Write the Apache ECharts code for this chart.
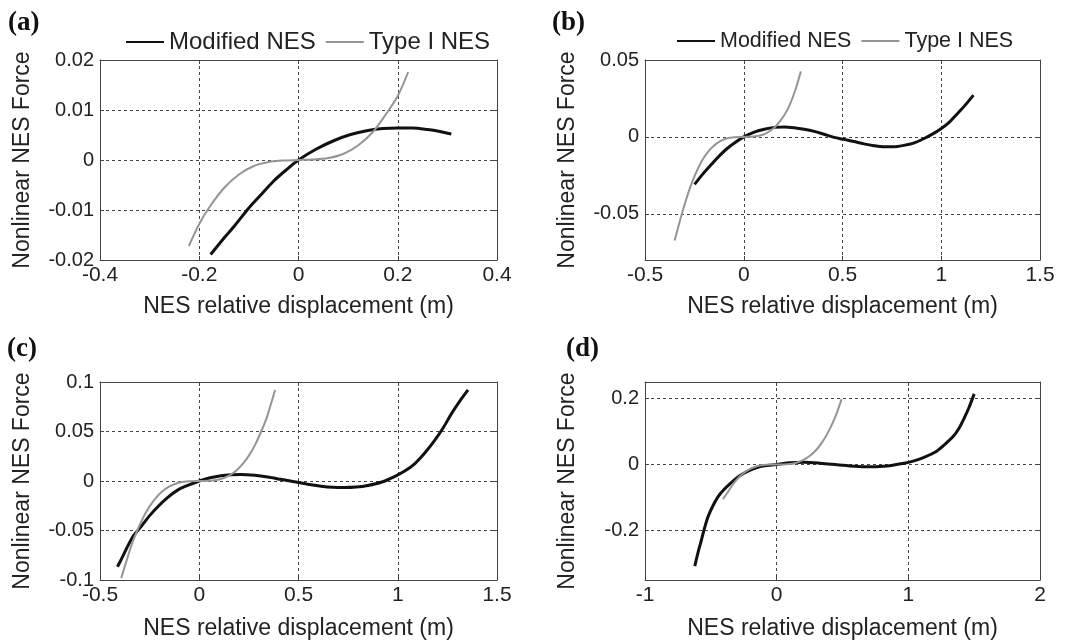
<!DOCTYPE html>
<html>
<head>
<meta charset="utf-8">
<script src="https://cdn.jsdelivr.net/npm/echarts@6/dist/echarts.min.js"></script>
<style>
html,body{margin:0;padding:0;background:#fff;}
#chart{width:1074px;height:642px;}
</style>
</head>
<body>
<div id="chart"></div>
<script>
// ---- data: [displacement (m), force] ----
const panelLabels = ['(a)', '(b)', '(c)', '(d)'];
const seriesNames = ['Modified NES', 'Type I NES'];
const xTitle = 'NES relative displacement (m)';
const yTitle = 'Nonlinear NES Force';

const modA = [[-0.177,-0.0189],[-0.15,-0.0156],[-0.13,-0.0133],[-0.1,-0.0096],[-0.076,-0.0070],[-0.05,-0.0042],[-0.025,-0.0020],[0,0],[0.036,0.0022],[0.072,0.0039],[0.105,0.0051],[0.14,0.0059],[0.17,0.0063],[0.2,0.0064],[0.23,0.0064],[0.26,0.0061],[0.285,0.0057],[0.308,0.0052]];
const typeA = [[-0.221,-0.0172],[-0.2,-0.0128],[-0.18,-0.0095],[-0.15,-0.0056],[-0.12,-0.0029],[-0.09,-0.0012],[-0.06,-0.0004],[-0.03,-0.0001],[0,0],[0.03,0.0001],[0.06,0.0004],[0.09,0.0012],[0.12,0.0029],[0.15,0.0056],[0.175,0.0090],[0.2,0.0128],[0.221,0.0176]];

const modB = [[-0.249,-0.0309],[-0.21,-0.0245],[-0.165,-0.0180],[-0.12,-0.0118],[-0.081,-0.0072],[-0.04,-0.0033],[0,0],[0.05,0.0030],[0.104,0.0050],[0.155,0.0062],[0.205,0.0065],[0.255,0.0060],[0.306,0.0050],[0.357,0.0036],[0.407,0.0017],[0.458,-0.0003],[0.508,-0.0016],[0.558,-0.0030],[0.608,-0.0045],[0.659,-0.0057],[0.709,-0.0064],[0.76,-0.0064],[0.81,-0.0055],[0.86,-0.0040],[0.911,-0.0012],[0.955,0.0018],[0.995,0.0050],[1.04,0.0095],[1.079,0.0148],[1.12,0.0205],[1.163,0.0272]];
const typeB = [[-0.35,-0.0674],[-0.32,-0.053],[-0.29,-0.040],[-0.26,-0.0289],[-0.23,-0.020],[-0.2,-0.0131],[-0.17,-0.0081],[-0.14,-0.0045],[-0.1,-0.0016],[-0.05,-0.0002],[0,0],[0.05,0.0002],[0.1,0.0016],[0.14,0.0045],[0.17,0.0081],[0.2,0.0131],[0.23,0.020],[0.26,0.030],[0.289,0.0426]];

const modC = [[-0.412,-0.0866],[-0.39,-0.078],[-0.362,-0.0664],[-0.33,-0.055],[-0.294,-0.0463],[-0.25,-0.035],[-0.21,-0.0262],[-0.16,-0.0168],[-0.109,-0.0092],[-0.055,-0.0042],[0,0],[0.055,0.0032],[0.109,0.0053],[0.16,0.0063],[0.21,0.0066],[0.28,0.0057],[0.345,0.0040],[0.41,0.0017],[0.479,-0.0008],[0.545,-0.0032],[0.614,-0.0052],[0.672,-0.0063],[0.732,-0.0066],[0.79,-0.0061],[0.849,-0.0045],[0.92,-0.0010],[0.984,0.0045],[1.035,0.0100],[1.085,0.0174],[1.135,0.0280],[1.186,0.041],[1.23,0.054],[1.27,0.0678],[1.31,0.080],[1.354,0.092]];
const typeC = [[-0.393,-0.098],[-0.37,-0.083],[-0.34,-0.064],[-0.31,-0.049],[-0.28,-0.036],[-0.25,-0.0256],[-0.22,-0.0175],[-0.19,-0.0112],[-0.15,-0.0055],[-0.1,-0.0016],[-0.05,-0.0002],[0,0],[0.05,0.0002],[0.1,0.0016],[0.15,0.0055],[0.19,0.0112],[0.22,0.0175],[0.25,0.0256],[0.28,0.036],[0.31,0.049],[0.34,0.064],[0.36,0.077],[0.382,0.092]];

const modD = [[-0.622,-0.308],[-0.596,-0.265],[-0.571,-0.228],[-0.546,-0.190],[-0.521,-0.158],[-0.484,-0.125],[-0.446,-0.098],[-0.40,-0.076],[-0.345,-0.055],[-0.28,-0.034],[-0.218,-0.020],[-0.155,-0.010],[-0.093,-0.004],[0,0],[0.1,0.005],[0.21,0.0065],[0.33,0.004],[0.46,-0.0005],[0.59,-0.005],[0.714,-0.0066],[0.84,-0.0045],[0.966,0.004],[1.03,0.0095],[1.09,0.017],[1.155,0.028],[1.22,0.042],[1.28,0.062],[1.345,0.087],[1.385,0.110],[1.42,0.137],[1.46,0.172],[1.5,0.214]];
const typeD = [[-0.408,-0.105],[-0.37,-0.083],[-0.33,-0.059],[-0.29,-0.040],[-0.25,-0.0256],[-0.2,-0.013],[-0.15,-0.0055],[-0.1,-0.0016],[-0.05,-0.0002],[0,0],[0.05,0.0002],[0.1,0.0016],[0.15,0.0055],[0.2,0.013],[0.25,0.0256],[0.3,0.044],[0.35,0.070],[0.4,0.105],[0.45,0.149],[0.493,0.198]];

// axis ranges and tick values
const xRanges = [[-0.4, 0.4], [-0.5, 1.5], [-0.5, 1.5], [-1, 2]];
const xTicks = [[-0.4,-0.2,0,0.2,0.4], [-0.5,0,0.5,1,1.5], [-0.5,0,0.5,1,1.5], [-1,0,1,2]];
const yRanges = [[-0.02, 0.02], [-0.08, 0.05], [-0.1, 0.1], [-0.35, 0.25]];
const yTicks = [[-0.02,-0.01,0,0.01,0.02], [-0.05,0,0.05], [-0.1,-0.05,0,0.05,0.1], [-0.2,0,0.2]];

const modData = [modA, modB, modC, modD];
const typeData = [typeA, typeB, typeC, typeD];

// ---- layout / style ----
const grids = [
  {left: 100, top: 60, width: 397, height: 200},
  {left: 645, top: 60, width: 395, height: 200},
  {left: 100, top: 382, width: 397, height: 198},
  {left: 645, top: 382, width: 395, height: 198}
];
const xNameGaps = [35, 35, 37, 37];
const labelPos = [[8, 10], [552, 10], [7, 336], [566, 336]];
const FONT = "'Liberation Sans', Arial, sans-serif";
const TXT = '#222';
const AX = '#444';

const chart = echarts.init(document.getElementById('chart'), null, {renderer: 'canvas'});

const xAxis = [], yAxis = [], series = [];
for (let i = 0; i < 4; i++) {
  const common = (r, t) => ({
    type: 'value', gridIndex: i, min: r[0], max: r[1],
    axisLine: {show: true, onZero: false, lineStyle: {color: AX, width: 1}},
    axisTick: {show: true, inside: true, length: 4, customValues: t, lineStyle: {color: AX}},
  });
  xAxis.push(Object.assign(common(xRanges[i], xTicks[i]), {
    position: 'bottom',
    name: xTitle, nameLocation: 'middle', nameGap: xNameGaps[i],
    nameTextStyle: {fontFamily: FONT, fontSize: 23, color: TXT},
    axisLabel: {show: true, customValues: xTicks[i], fontFamily: FONT, fontSize: 21, color: TXT, margin: 5, showMinLabel: true, showMaxLabel: true},
    splitLine: {show: true, lineStyle: {type: [3, 3], color: '#444', width: 1}}
  }));
  yAxis.push(Object.assign(common(yRanges[i], yTicks[i]), {
    position: 'left',
    name: yTitle, nameLocation: 'middle', nameGap: 66,
    nameTextStyle: {fontFamily: FONT, fontSize: 23, color: TXT},
    axisLabel: {show: true, customValues: yTicks[i], fontFamily: FONT, fontSize: 20, color: TXT, margin: 6, showMinLabel: true, showMaxLabel: true},
    splitLine: {show: true, lineStyle: {type: [3, 3], color: '#444', width: 1}}
  }));
}
for (let i = 0; i < 4; i++) {
  xAxis.push({
    type: 'value', gridIndex: i, min: xRanges[i][0], max: xRanges[i][1], position: 'top',
    axisLine: {show: true, onZero: false, lineStyle: {color: AX, width: 1}},
    axisTick: {show: true, inside: true, length: 4, customValues: xTicks[i], lineStyle: {color: AX}},
    axisLabel: {show: false}, splitLine: {show: false}
  });
  yAxis.push({
    type: 'value', gridIndex: i, min: yRanges[i][0], max: yRanges[i][1], position: 'right',
    axisLine: {show: true, onZero: false, lineStyle: {color: AX, width: 1}},
    axisTick: {show: true, inside: true, length: 4, customValues: yTicks[i], lineStyle: {color: AX}},
    axisLabel: {show: false}, splitLine: {show: false}
  });
}
for (let i = 0; i < 4; i++) {
  series.push({
    name: seriesNames[0], type: 'line', xAxisIndex: i, yAxisIndex: i,
    data: modData[i], symbol: 'none', showSymbol: false, smooth: 0.3,
    color: '#111', lineStyle: {color: '#111', width: 3}, z: 3
  });
  series.push({
    name: seriesNames[1], type: 'line', xAxisIndex: i, yAxisIndex: i,
    data: typeData[i], symbol: 'none', showSymbol: false, smooth: 0.3,
    color: '#959595', lineStyle: {color: '#959595', width: 2}, z: 4
  });
}

const legendCommon = {
  data: seriesNames, top: 30, itemWidth: 38, itemHeight: 14, itemGap: 9, padding: 0,
  itemStyle: {opacity: 0}
};

chart.setOption({
  animation: false,
  backgroundColor: '#fff',
  title: panelLabels.map((t, i) => ({
    text: t, left: labelPos[i][0], top: labelPos[i][1], padding: 0,
    textStyle: {fontFamily: "'Liberation Serif', 'Times New Roman', serif", fontWeight: 'bold', fontSize: 27, color: '#111'}
  })),
  legend: [
    Object.assign({left: 125, textStyle: {fontFamily: FONT, fontSize: 24, color: TXT}}, legendCommon),
    Object.assign({left: 676, textStyle: {fontFamily: FONT, fontSize: 21.5, color: TXT}}, legendCommon)
  ],
  grid: grids.map(g => Object.assign({containLabel: false, outerBoundsMode: 'none', show: false}, g)),
  xAxis: xAxis,
  yAxis: yAxis,
  series: series
});
</script>
</body>
</html>
